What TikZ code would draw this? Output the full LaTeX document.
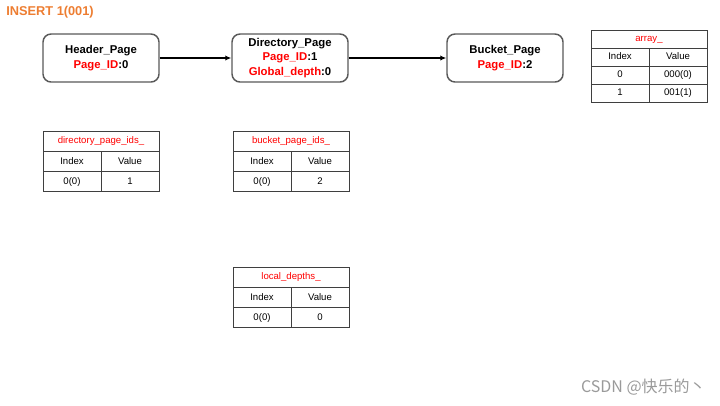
\documentclass[tikz,border=0pt]{standalone}
\usepackage{fontspec}
\setmainfont{Liberation Sans}
\newfontfamily\cjk{Noto Sans CJK SC}
\usetikzlibrary{arrows.meta}
\definecolor{titleorange}{HTML}{ED7D31}
\definecolor{boxgray}{HTML}{595959}
\definecolor{tabline}{HTML}{3F3F3F}
\definecolor{markgray}{HTML}{9A9A9A}
\newcommand{\tablehead}[5]{%
  \node[cell, minimum width=87pt, minimum height=#5, text=red] (#1t) at (#2,#3) {#4};
  \node[cell, minimum width=43.5pt, minimum height=#5] (#1i) at (#1t.south west) {Index};
  \node[cell, minimum width=43.5pt, minimum height=#5] (#1v) at (#1t.south) {Value};
}
\newcommand{\tablerow}[6]{% prefix, above-idx, above-val, rowname, idx, val ; height via \rowh
  \node[cell, minimum width=43.5pt, minimum height=\rowh] (#1#4i) at (#2.south west) {#5};
  \node[cell, minimum width=43.5pt, minimum height=\rowh] (#1#4v) at (#3.south west) {#6};
}
\begin{document}
\begin{tikzpicture}[x=0.75pt,y=-0.75pt,
  pagebox/.style={draw=boxgray, line width=1.1pt, rounded corners=6pt, fill=white,
    minimum width=87pt, minimum height=36pt, inner sep=0pt, align=center,
    font=\bfseries\fontsize{8.5}{11}\selectfont},
  arr/.style={line width=1.1pt, -{Latex[length=4.5pt,width=4pt]}},
  cell/.style={draw=tabline, line width=0.6pt, inner sep=0pt, outer sep=0pt,
    anchor=north west, text height=5.6pt, text depth=1.4pt, font=\fontsize{7.2}{8}\selectfont},
  titlelbl/.style={text=titleorange, font=\bfseries\fontsize{9.6}{11}\selectfont, anchor=west, inner sep=0pt},
  wmark/.style={text=markgray, font=\cjk\fontsize{12}{13}\selectfont, anchor=east, inner sep=0pt}]
\useasboundingbox (0,0) rectangle (720,405);

\node[titlelbl] (title) at (6,12) {INSERT 1(001)};

\node[pagebox] (hdr) at (101,58) {Header\_Page\\{\color{red}Page\_ID}:0};
\node[pagebox] (dir) at (290,58) {Directory\_Page\\{\color{red}Page\_ID}:1\\{\color{red}Global\_depth}:0};
\node[pagebox] (bkt) at (505,58) {Bucket\_Page\\{\color{red}Page\_ID}:2};

\draw[arr] (hdr) -- (dir);
\draw[arr] (dir) -- (bkt);

% array_
\def\rowh{13.5pt}
\tablehead{arr}{591}{30}{array\_}{13.5pt}
\tablerow{arr}{arri}{arrv}{a}{0}{000(0)}
\tablerow{arr}{arrai}{arrav}{b}{1}{001(1)}

% directory_page_ids_
\def\rowh{15.2pt}
\tablehead{dpi}{43}{131}{directory\_page\_ids\_}{15.2pt}
\tablerow{dpi}{dpii}{dpiv}{a}{0(0)}{1}

% bucket_page_ids_
\tablehead{bpi}{233}{131}{bucket\_page\_ids\_}{15.2pt}
\tablerow{bpi}{bpii}{bpiv}{a}{0(0)}{2}

% local_depths_
\tablehead{ld}{233}{267}{local\_depths\_}{15.2pt}
\tablerow{ld}{ldi}{ldv}{a}{0(0)}{0}

\node[wmark] (wm) at (706,387) {CSDN @快乐的丶};
\end{tikzpicture}
\end{document}
